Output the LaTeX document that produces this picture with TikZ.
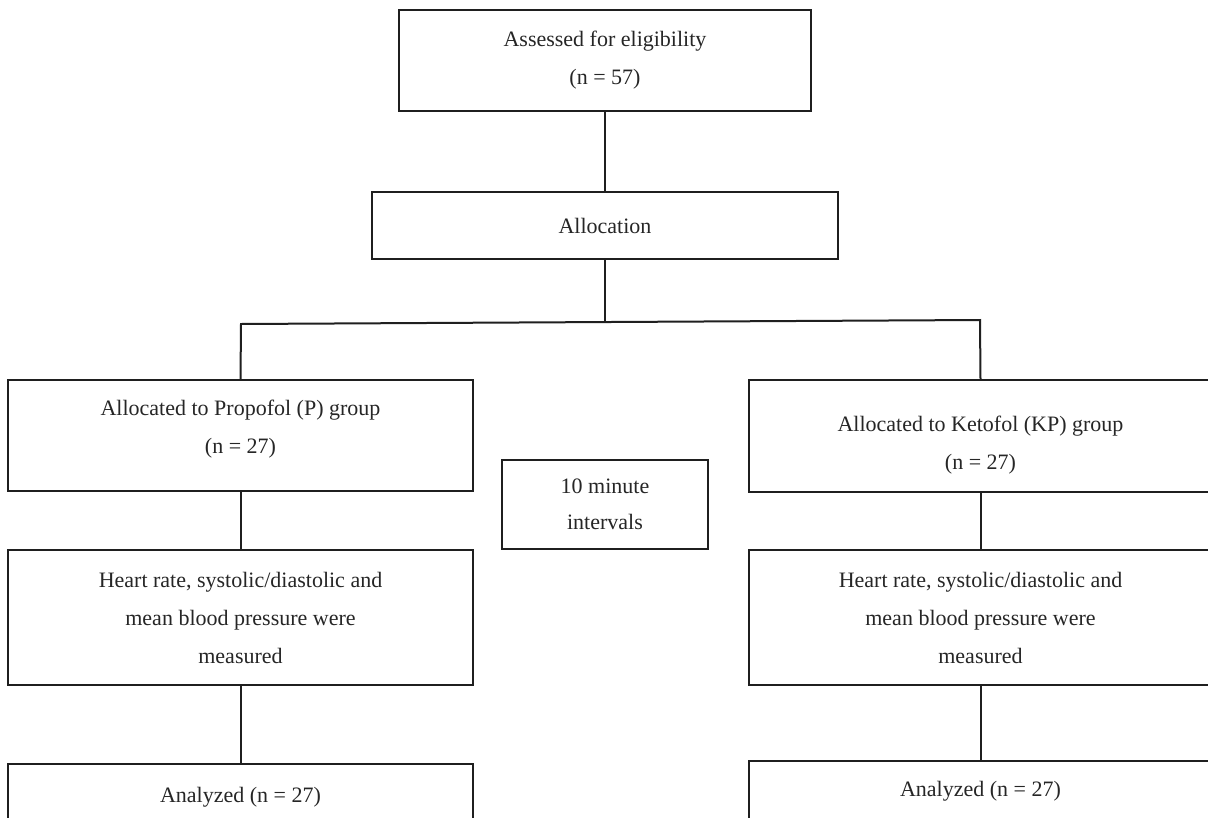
\documentclass[tikz,border=0pt]{standalone}
\usepackage{fontspec}
\setmainfont{Liberation Serif}
\begin{document}
\begin{tikzpicture}[x=1pt,y=-1pt,
  box/.style={draw=black!88, line width=2pt, inner sep=0pt, align=center,
    font=\fontsize{22}{38}\selectfont, text=black!85},
  conn/.style={draw=black!88, line width=2pt}]
\useasboundingbox (0,0) rectangle (1208,817);
\clip (0,0) rectangle (1208,817);
\fill[white] (0,0) rectangle (1208,817);
\node[box, minimum width=412, minimum height=101] (assess) at (605,60.5) {Assessed for eligibility\\(n = 57)};
\node[box, minimum width=466, minimum height=67] (alloc) at (605,225.5) {Allocation};
\node[box, minimum width=465, minimum height=111] (P) at (240.5,435.5) {Allocated to Propofol (P) group\\(n = 27)\\[-20pt]\mbox{}};
\node[box, minimum width=463, minimum height=112] (KP) at (980.5,436) {\mbox{}\\[-4pt]Allocated to Ketofol (KP) group\\(n = 27)};
\node[box, minimum width=206, minimum height=89, font=\fontsize{22}{36}\selectfont] (mid) at (605,504.5) {10 minute\\intervals};
\node[box, minimum width=465, minimum height=135] (HL) at (240.5,617.5) {Heart rate, systolic/diastolic and\\mean blood pressure were\\measured};
\node[box, minimum width=463, minimum height=135] (HR) at (980.5,617.5) {Heart rate, systolic/diastolic and\\mean blood pressure were\\measured};
\node[box, minimum width=465, minimum height=66] (AL) at (240.5,797) {Analyzed (n = 27)};
\node[box, minimum width=463, minimum height=60] (AR) at (980.5,791) {Analyzed (n = 27)};
\coordinate (jl) at (241,324);
\coordinate (jr) at (980,320);
\coordinate (jm) at (605,322);
\draw[conn] (assess.south) -- (alloc.north);
\draw[conn] (alloc.south) -- (jm);
\draw[conn] (P.north) -- (jl) -- (jr) -- (KP.north);
\draw[conn] (P.south) -- (HL.north);
\draw[conn] (KP.south) -- (HR.north);
\draw[conn] (HL.south) -- (AL.north);
\draw[conn] (HR.south) -- (AR.north);
\end{tikzpicture}
\end{document}
